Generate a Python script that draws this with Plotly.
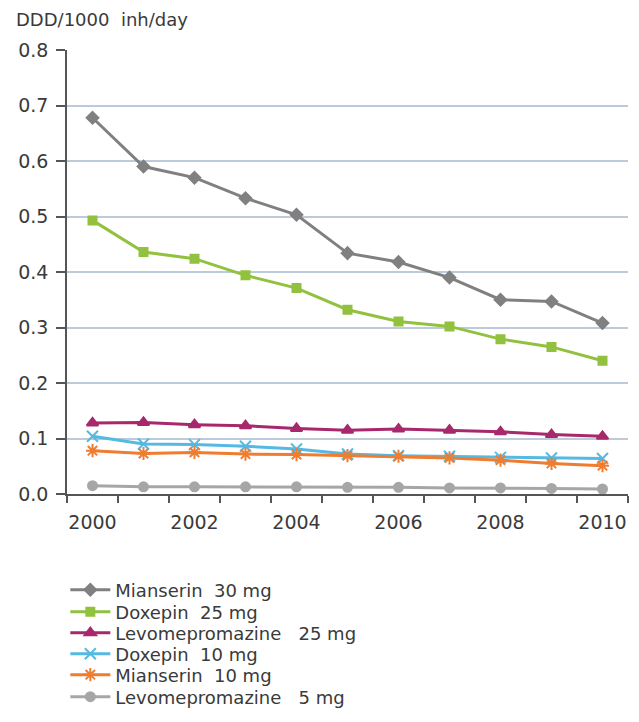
import plotly.graph_objects as go

years = [2000, 2001, 2002, 2003, 2004, 2005, 2006, 2007, 2008, 2009, 2010]
mianserin_30 = [0.678, 0.590, 0.570, 0.533, 0.503, 0.434, 0.418, 0.390, 0.350, 0.347, 0.308]
doxepin_25 = [0.493, 0.436, 0.424, 0.394, 0.371, 0.332, 0.311, 0.302, 0.279, 0.265, 0.240]
levomepromazine_25 = [0.128, 0.129, 0.125, 0.123, 0.118, 0.115, 0.117, 0.115, 0.112, 0.107, 0.104]
doxepin_10 = [0.104, 0.090, 0.089, 0.086, 0.081, 0.072, 0.069, 0.068, 0.066, 0.065, 0.064]
mianserin_10 = [0.078, 0.073, 0.075, 0.072, 0.071, 0.069, 0.068, 0.065, 0.061, 0.055, 0.051]
levomepromazine_5 = [0.015, 0.013, 0.013, 0.013, 0.013, 0.012, 0.012, 0.011, 0.011, 0.010, 0.009]

y_ticks = [0.0, 0.1, 0.2, 0.3, 0.4, 0.5, 0.6, 0.7, 0.8]
x_ticks = [2000, 2002, 2004, 2006, 2008, 2010]

series = [
    ("Mianserin  30 mg", mianserin_30, "#808080", "diamond", 9),
    ("Doxepin  25 mg", doxepin_25, "#92c13f", "square", 8),
    ("Levomepromazine   25 mg", levomepromazine_25, "#a8286c", "triangle-up", 10),
    ("Doxepin  10 mg", doxepin_10, "#56b9e2", "x-thin-open", 11),
    ("Mianserin  10 mg", mianserin_10, "#f07c2f", "asterisk-open", 11),
    ("Levomepromazine   5 mg", levomepromazine_5, "#a6a6a6", "circle", 9),
]

W, H, OFF = 631, 714, 8
legend_rows_px = [590, 612, 633, 654, 675, 697]  # row centres on the page
font_family = "DejaVu Sans, Verdana, sans-serif"
txt_color = "#3a3a3a"

fig = go.Figure()
legends = {}
for i, (name, vals, color, sym, size) in enumerate(series):
    key = "legend" if i == 0 else "legend%d" % (i + 1)
    fig.add_trace(go.Scatter(
        x=years, y=vals, name=name, mode="lines+markers",
        line=dict(color=color, width=3),
        marker=dict(symbol=sym, size=size, color=color,
                    line=dict(color=color, width=2)),
        legend=key,
    ))
    legends[key] = dict(
        x=-0.003, xanchor="left", yref="container",
        y=1 - (legend_rows_px[i] - OFF) / H, yanchor="middle",
        font=dict(size=18, color=txt_color), itemwidth=40,
        bgcolor="rgba(0,0,0,0)",
    )

fig.update_layout(
    width=W, height=H,
    margin=dict(l=59, r=11, t=42, b=228),
    paper_bgcolor="white", plot_bgcolor="white",
    font=dict(family=font_family, size=19, color=txt_color),
    showlegend=True,
    xaxis=dict(
        range=[1999.5, 2010.5], tickmode="array", tickvals=x_ticks,
        ticktext=[str(v) for v in x_ticks], ticks="", showgrid=False,
        showline=True, linecolor="#555555", linewidth=1.5,
        zeroline=False, ticklabelstandoff=10,
        minor=dict(tick0=1999.5, dtick=1, ticks="outside", ticklen=7,
                   tickcolor="#555555", tickwidth=1.5, showgrid=False),
    ),
    yaxis=dict(
        range=[0, 0.8], tickmode="array", tickvals=y_ticks,
        ticktext=["%.1f" % v for v in y_ticks],
        ticks="outside", ticklen=9, tickcolor="#555555", tickwidth=1.5,
        ticklabelstandoff=4,
        showgrid=True, gridcolor="#bccbdb", gridwidth=1.5,
        showline=True, linecolor="#555555", linewidth=1.5,
        zeroline=False,
    ),
    annotations=[dict(text="DDD/1000  inh/day", xref="paper", yref="paper",
                      x=-0.095, y=1.04, xanchor="left", yanchor="bottom",
                      showarrow=False, font=dict(size=18, color=txt_color))],
    **legends,
)

fig.write_html("out.html")
